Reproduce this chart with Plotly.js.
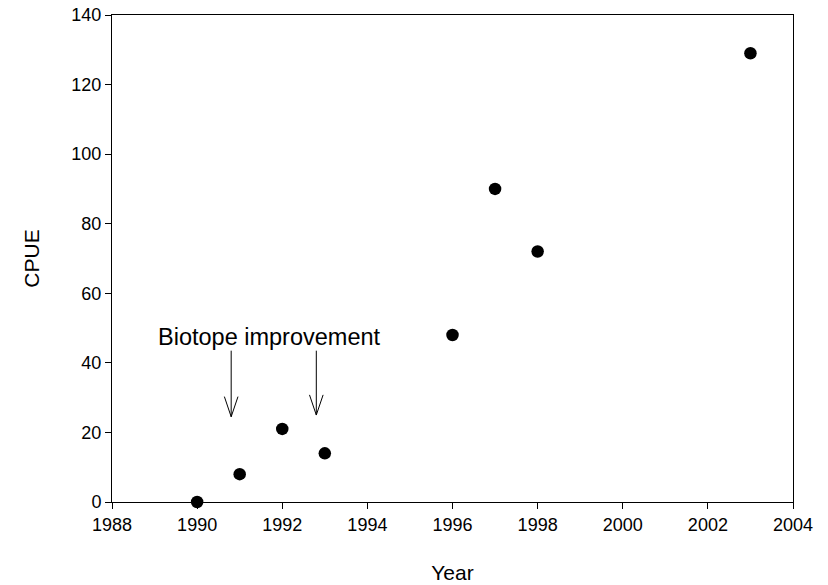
<!DOCTYPE html>
<html><head><meta charset="utf-8">
<script src="https://cdn.plot.ly/plotly-3.0.1.min.js"></script>
<style>body{margin:0;background:#fff}#c{width:828px;height:585px}</style>
</head><body><div id="c"></div>
<script>
const years = [1990, 1991, 1992, 1993, 1996, 1997, 1998, 2003];
const cpue = [0, 8, 21, 14, 48, 90, 72, 129];
const arrowYears = [1990.8, 1992.8];
const arrowTop = [43.5, 43.5];
const arrowBottom = [24.5, 25];
const xTicks = [1988, 1990, 1992, 1994, 1996, 1998, 2000, 2002, 2004];
const yTicks = [0, 20, 40, 60, 80, 100, 120, 140];

const ax = [], ay = [];
const hw = 0.16, hh = 5.8;
arrowYears.forEach((x, i) => {
  ax.push(x, x, null, x - hw, x, x + hw, null);
  ay.push(arrowTop[i], arrowBottom[i], null, arrowBottom[i] + hh, arrowBottom[i], arrowBottom[i] + hh, null);
});

const traces = [
  {x: years, y: cpue, mode: 'markers', type: 'scatter',
   marker: {color: '#000', size: 12.5}, cliponaxis: false},
  {x: ax, y: ay, mode: 'lines', type: 'scatter',
   line: {color: '#000', width: 1}, cliponaxis: false}
];
const font = {family: 'Liberation Sans, Arial, sans-serif', color: '#000'};
const layout = {
  width: 828, height: 585,
  margin: {l: 112, r: 35, t: 15, b: 83},
  paper_bgcolor: '#fff', plot_bgcolor: '#fff',
  showlegend: false,
  font: Object.assign({size: 18}, font),
  xaxis: {range: [1988, 2004], tickvals: xTicks, ticktext: xTicks.map(String),
    showgrid: false, zeroline: false, showline: true, linecolor: '#000', linewidth: 1,
    mirror: true, ticks: 'outside', ticklen: 6, tickcolor: '#000',
    tickfont: Object.assign({size: 18}, font),
    title: {text: 'Year', font: Object.assign({size: 21}, font), standoff: 31}},
  yaxis: {range: [0, 140], tickvals: yTicks, ticktext: yTicks.map(String),
    showgrid: false, zeroline: false, showline: true, linecolor: '#000', linewidth: 1,
    mirror: true, ticks: 'outside', ticklen: 6, tickcolor: '#000',
    tickfont: Object.assign({size: 18}, font),
    title: {text: 'CPUE', font: Object.assign({size: 21}, font), standoff: 26}},
  annotations: [{x: 1991.71, y: 47.4, xref: 'x', yref: 'y', text: 'Biotope improvement',
    showarrow: false, font: Object.assign({size: 23.5}, font)}]
};
Plotly.newPlot('c', traces, layout, {displayModeBar: false, staticPlot: true});
</script></body></html>
